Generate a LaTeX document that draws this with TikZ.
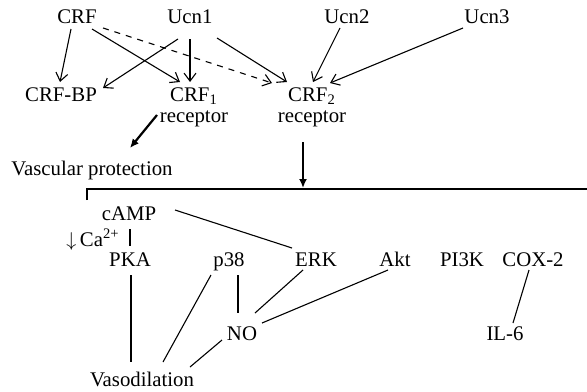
\documentclass[tikz,border=0pt]{standalone}
\usepackage{fontspec}
\setmainfont{Liberation Serif}
\usepackage{tikz}
\usetikzlibrary{arrows.meta,positioning,calc}

\begin{document}
\begin{tikzpicture}[x=0.5pt,y=-0.5pt,line width=0.55pt,
        >={Straight Barb[length=4pt,width=6pt]},
        lbl/.style={inner sep=0pt,anchor=base,font=\fontsize{10.4pt}{12pt}\selectfont},
        thickarrow/.style={line width=1.1pt,-{Latex[length=4.5pt,width=4pt]}}]
        \useasboundingbox (0,0) rectangle (587,391);
        % Draw peptides
        \node[lbl] (crf) at (77,23) {CRF};
        \node[lbl] (ucna) at (190,23) {Ucn1};
        \node[lbl] (ucnb) at (347,23) {Ucn2};
        \node[lbl] (ucnc) at (487,23) {Ucn3};
        % Draw receptors
        \node[lbl] (crfbp) at (61,101) {CRF-BP};
        \node[lbl] (crfone) at (194,101) {CRF\textsubscript{1}};
        \node[lbl] (recone) at (194,122) {receptor};
        \node[lbl] (crftwo) at (312,101) {CRF\textsubscript{2}};
        \node[lbl] (rectwo) at (312,122) {receptor};
        \node[lbl] (vascp) at (92,175) {Vascular protection};
        % Draw pathways
        \node[lbl] (camp) at (129,220) {cAMP};
        \node[lbl] (ca) at (93,246) {$\downarrow$\,Ca\textsuperscript{2+}};
        \node[lbl] (pka) at (130,266) {PKA};
        \node[lbl] (pthree) at (229,266) {p38};
        \node[lbl] (erk) at (316,266) {ERK};
        \node[lbl] (akt) at (395,266) {Akt};
        \node[lbl] (pik) at (462,266) {PI3K};
        \node[lbl] (cox) at (533,266) {COX-2};
        \node[lbl] (no) at (242,340) {NO};
        \node[lbl] (il) at (505,340) {IL-6};
        \node[lbl] (vaso) at (142,386) {Vasodilation};
        % Draw binding arrows
        \draw[->] ($(crf.base)+(-6,6)$) -- ($(crfbp.base)+(-1,-19)$);
        \draw[->] ($(crf.base)+(15,6)$) -- ($(crfone.base)+(-14,-19)$);
        \draw[->, dashed] ($(crf.base)+(26,5)$) -- ($(crftwo.base)+(-40,-18)$);
        \draw[->] ($(ucna.base)+(-12,16)$) -- ($(crfbp.base)+(42,-13)$);
        \draw[->] ($(ucna.base)+(0,16)$) -- ($(crfone.base)+(-4,-19)$);
        \draw[->] ($(ucna.base)+(27,15)$) -- ($(crftwo.base)+(-25,-19)$);
        \draw[->] ($(ucnb.base)+(-7,5)$) -- ($(crftwo.base)+(1,-19)$);
        \draw[->] ($(ucnc.base)+(-24,5)$) -- ($(crftwo.base)+(18,-18)$);
        % Draw downstream
        \draw[thickarrow] ($(recone.base)+(-37,-7)$) -- ($(vascp.base)+(38,-27)$);
        \coordinate (brkl) at (87,200);
        \coordinate (brkr) at (587,189);
        \coordinate (brktop) at (303,188);
        \draw (brkl) -- (87,189) -- (brkr);
        \draw[thickarrow] ($(rectwo.base)+(-9,20)$) -- (brktop);
        % Draw links
        \draw ($(camp.base)+(1,9)$) -- ($(pka.base)+(0,-20)$);
        \draw ($(camp.base)+(46,-10)$) -- ($(erk.base)+(-24,-18)$);
        \draw ($(pka.base)+(1,9)$) -- ($(vaso.base)+(-11,-24)$);
        \draw ($(pthree.base)+(-18,9)$) -- ($(vaso.base)+(21,-24)$);
        \draw ($(pthree.base)+(9,9)$) -- ($(no.base)+(-4,-27)$);
        \draw ($(erk.base)+(-13,4)$) -- ($(no.base)+(13,-27)$);
        \draw ($(akt.base)+(-7,4)$) -- ($(no.base)+(20,-17)$);
        \draw ($(no.base)+(-20,0)$) -- ($(vaso.base)+(48,-19)$);
        \draw ($(cox.base)+(-4,4)$) -- ($(il.base)+(8,-17)$);
    \end{tikzpicture}
\end{document}
